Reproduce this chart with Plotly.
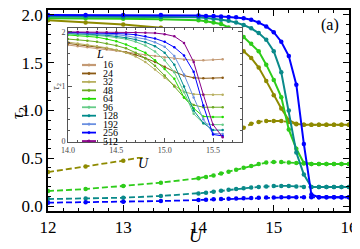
import plotly.graph_objects as go

# ---------------- data ----------------
U_MAIN = [12.0, 12.5, 13.0, 13.5, 14.0, 14.1, 14.2, 14.3, 14.4, 14.5, 14.6, 14.7, 14.8,
          14.9, 15.0, 15.1, 15.2, 15.3, 15.4, 15.5, 15.6, 15.7, 15.8, 15.9, 16.0]

SOLID_OLIVE = [1.945, 1.92, 1.90, 1.865, 1.815, 1.79, 1.765, 1.74, 1.71, 1.67, 1.62, 1.55, 1.45,
               1.31, 1.16, 1.02, 0.90, 0.86, 0.85, 0.85, 0.85, 0.85, 0.85, 0.85, 0.85]
SOLID_GREEN = [1.965, 1.965, 1.96, 1.955, 1.945, 1.935, 1.92, 1.905, 1.87, 1.83, 1.77, 1.70, 1.62,
               1.48, 1.32, 1.14, 0.80, 0.60, 0.45, 0.44, 0.44, 0.44, 0.44, 0.44, 0.44]
SOLID_TEAL = [1.985, 1.985, 1.98, 1.98, 1.975, 1.97, 1.96, 1.95, 1.94, 1.92, 1.895, 1.86, 1.81,
              1.74, 1.62, 1.40, 1.00, 0.56, 0.33, 0.20, 0.20, 0.20, 0.20, 0.20, 0.20]
SOLID_BLUE = [2.0, 2.0, 2.0, 2.0, 1.995, 1.99, 1.99, 1.985, 1.98, 1.975, 1.965, 1.95, 1.92,
              1.88, 1.82, 1.72, 1.57, 1.27, 0.65, 0.12, 0.093, 0.092, 0.092, 0.092, 0.092]

DASH_OLIVE = [0.355, 0.415, 0.475, 0.55, 0.62, 0.66, 0.70, 0.74, 0.78, 0.80, 0.82, 0.86, 0.88,
              0.89, 0.89, 0.89, 0.88, 0.855, 0.85, 0.85, 0.85, 0.85, 0.85, 0.85, 0.85]
DASH_GREEN = [0.157, 0.178, 0.21, 0.245, 0.29, 0.305, 0.32, 0.34, 0.36, 0.38, 0.40, 0.42, 0.44,
              0.455, 0.46, 0.46, 0.455, 0.45, 0.445, 0.44, 0.44, 0.44, 0.44, 0.44, 0.44]
DASH_TEAL = [0.073, 0.078, 0.087, 0.105, 0.13, 0.14, 0.15, 0.16, 0.17, 0.178, 0.186, 0.193, 0.20,
             0.205, 0.21, 0.21, 0.21, 0.205, 0.20, 0.20, 0.20, 0.20, 0.20, 0.20, 0.20]
DASH_BLUE = [0.035, 0.039, 0.044, 0.052, 0.063, 0.066, 0.07, 0.073, 0.076, 0.079, 0.082, 0.085, 0.087,
             0.089, 0.09, 0.091, 0.092, 0.092, 0.092, 0.092, 0.092, 0.092, 0.092, 0.092, 0.092]

U_INSET = [14.0, 14.1, 14.2, 14.3, 14.4, 14.5, 14.6, 14.7, 14.8, 14.9, 15.0, 15.1, 15.2,
           15.3, 15.4, 15.5, 15.6]
L_LABELS = ["16", "24", "32", "48", "64", "96", "128", "192", "256", "512"]
INSET_L16 = [1.76, 1.74, 1.72, 1.70, 1.68, 1.66, 1.63, 1.61, 1.58, 1.56, 1.53, 1.51, 1.49, 1.48, 1.48, 1.49, 1.50]
INSET_L24 = [1.79, 1.77, 1.75, 1.73, 1.70, 1.67, 1.63, 1.58, 1.52, 1.45, 1.36, 1.27, 1.20, 1.16, 1.15, 1.15, 1.16]
INSET_L32 = [1.815, 1.79, 1.765, 1.74, 1.71, 1.67, 1.62, 1.55, 1.45, 1.31, 1.16, 1.02, 0.90, 0.86, 0.85, 0.85, 0.85]
INSET_L48 = [1.87, 1.86, 1.84, 1.82, 1.79, 1.75, 1.70, 1.62, 1.52, 1.38, 1.20, 1.00, 0.80, 0.66, 0.62, 0.62, 0.62]
INSET_L64 = [1.945, 1.935, 1.92, 1.905, 1.87, 1.83, 1.77, 1.70, 1.62, 1.48, 1.32, 1.14, 0.80, 0.60, 0.45, 0.44, 0.44]
INSET_L96 = [1.96, 1.955, 1.945, 1.935, 1.92, 1.90, 1.87, 1.82, 1.75, 1.64, 1.48, 1.26, 0.90, 0.50, 0.32, 0.30, 0.30]
INSET_L128 = [1.975, 1.97, 1.96, 1.95, 1.94, 1.92, 1.895, 1.86, 1.81, 1.74, 1.62, 1.40, 1.00, 0.56, 0.33, 0.20, 0.20]
INSET_L192 = [1.985, 1.98, 1.975, 1.97, 1.96, 1.95, 1.93, 1.90, 1.87, 1.81, 1.73, 1.56, 1.22, 0.80, 0.40, 0.14, 0.13]
INSET_L256 = [1.995, 1.99, 1.99, 1.985, 1.98, 1.975, 1.965, 1.95, 1.92, 1.88, 1.82, 1.72, 1.57, 1.27, 0.65, 0.12, 0.093]
INSET_L512 = [2.0, 2.0, 2.0, 2.0, 1.995, 1.995, 1.99, 1.99, 1.985, 1.98, 1.96, 1.92, 1.80, 1.45, 0.85, 0.30, 0.07]

MAIN_TICKS_X = [12, 13, 14, 15, 16]
MAIN_TICKS_Y = [0.0, 0.5, 1.0, 1.5, 2.0]
INSET_TICKS_X = [14.0, 14.5, 15.0, 15.5]
INSET_TICKS_Y = [0, 1, 2]

# ---------------- styling ----------------
# The page body adds an 8px offset, so the figure is shifted back by 8px.
OFF = 8
W, H = 360, 249
PL, PT = 48, 10          # plot-area top-left in the final picture
PW, PH = 301, 201
ML, MT = PL - OFF, PT - OFF
MR, MB = W - ML - PW, H - MT - PH
FONT = "Liberation Serif"


def px(x):  # picture pixel -> paper x
    return (x - PL) / PW


def py(y):  # picture pixel -> paper y
    return (PT + PH - y) / PH


C_OLIVE, C_GREEN, C_TEAL, C_BLUE = "#8e8a00", "#2ecc1a", "#0a8a8a", "#0000ff"
INSET_COLORS = ["#c49a74", "#8b5a14", "#b8b060", "#6aaa20", "#22dd00",
                "#66cc88", "#008b8b", "#6a8fe0", "#0000ff", "#880088"]
INSET_SERIES = [INSET_L16, INSET_L24, INSET_L32, INSET_L48, INSET_L64,
                INSET_L96, INSET_L128, INSET_L192, INSET_L256, INSET_L512]

fig = go.Figure()

for ys, c in [(DASH_OLIVE, C_OLIVE), (DASH_GREEN, C_GREEN), (DASH_TEAL, C_TEAL), (DASH_BLUE, C_BLUE)]:
    fig.add_trace(go.Scatter(x=U_MAIN, y=ys, mode="lines+markers",
                             line=dict(color=c, width=1.8, dash="6px,3px"),
                             marker=dict(color=c, size=4.5), showlegend=False,
                             xaxis="x", yaxis="y"))
for ys, c in [(SOLID_OLIVE, C_OLIVE), (SOLID_GREEN, C_GREEN), (SOLID_TEAL, C_TEAL), (SOLID_BLUE, C_BLUE)]:
    fig.add_trace(go.Scatter(x=U_MAIN, y=ys, mode="lines+markers",
                             line=dict(color=c, width=2),
                             marker=dict(color=c, size=4.5), showlegend=False,
                             xaxis="x", yaxis="y"))

# background subplot for the inset (white box incl. tick-label strip)
fig.add_trace(go.Scatter(x=[None], y=[None], xaxis="x2", yaxis="y2",
                         showlegend=False, hoverinfo="skip"))

for ys, c in zip(INSET_SERIES, INSET_COLORS):
    fig.add_trace(go.Scatter(x=U_INSET, y=ys, mode="lines+markers",
                             line=dict(color=c, width=1),
                             marker=dict(color=c, size=2.5), showlegend=False,
                             xaxis="x3", yaxis="y3"))

main_axis = dict(showline=True, linecolor="black", linewidth=1.5, mirror="ticks",
                 ticks="inside", ticklen=6, tickwidth=1, tickcolor="black",
                 showgrid=False, zeroline=False, ticklabeloverflow="allow",
                 tickfont=dict(family=FONT, size=17, color="black"))
inset_axis = dict(showline=True, linecolor="#555", linewidth=1, mirror="ticks",
                  ticks="inside", ticklen=4, tickcolor="#555",
                  showgrid=False, zeroline=False, ticklabeloverflow="allow",
                  tickfont=dict(family=FONT, size=8, color="#444"))

fig.update_layout(
    width=W, height=H,
    margin=dict(l=ML, r=MR, t=MT, b=MB, autoexpand=False),
    paper_bgcolor="white", plot_bgcolor="white",
    xaxis=dict(main_axis, range=[12, 16], tickvals=MAIN_TICKS_X, domain=[0, 1],
               minor=dict(dtick=0.2, ticks="inside", ticklen=3, tickcolor="black")),
    yaxis=dict(main_axis, range=[-0.052, 2.052], tickvals=MAIN_TICKS_Y, tickformat=".1f",
               domain=[0, 1],
               minor=dict(dtick=0.1, ticks="inside", ticklen=3, tickcolor="black")),
    xaxis2=dict(visible=False, domain=[px(55), px(242)], range=[0, 1], anchor="y2"),
    yaxis2=dict(visible=False, domain=[py(157), py(28)], range=[0, 1], anchor="x2"),
    xaxis3=dict(inset_axis, domain=[px(68), px(242)], range=[14.0, 15.8], anchor="y3",
                tickvals=INSET_TICKS_X, tickformat=".1f",
                minor=dict(dtick=0.1, ticks="inside", ticklen=2, tickcolor="#555")),
    yaxis3=dict(inset_axis, domain=[py(142), py(28)], range=[-0.018, 2.073], anchor="x3",
                tickvals=INSET_TICKS_Y,
                minor=dict(dtick=0.2, ticks="inside", ticklen=2, tickcolor="#555")),
)


def note(text, x, y, size, color="black", angle=0, xanchor="center"):
    return dict(text=text, x=px(x), y=py(y), xref="paper", yref="paper",
                xanchor=xanchor, yanchor="middle", showarrow=False, textangle=angle,
                font=dict(family=FONT, size=size, color=color))


ann = [
    note("<i>U</i>", 196, 236, 18),
    note("<i>τ</i><sub>2</sub>", 19, 113, 17, angle=-90),
    note("(a)", 330, 25, 16),
    note("<i>U</i>", 143, 163, 14),
    note("<i>τ</i><sub>2</sub>", 56, 86, 10, color="#444", angle=-90),
    note("<i>L</i>", 100, 54, 12),
]

shapes = []
row0, step = 65.0, 8.45
for i, (lab, c) in enumerate(zip(L_LABELS, INSET_COLORS)):
    yy = row0 + i * step
    shapes.append(dict(type="line", xref="paper", yref="paper",
                       x0=px(82), x1=px(96), y0=py(yy), y1=py(yy),
                       line=dict(color=c, width=2.2 if i == 0 else 1.8)))
    shapes.append(dict(type="circle", xref="paper", yref="paper",
                       x0=px(87.8), x1=px(90.2), y0=py(yy + 1.2), y1=py(yy - 1.2),
                       fillcolor=c, line=dict(color=c, width=0.5)))
    ann.append(note(lab, 101, yy, 10, xanchor="left"))

fig.update_layout(annotations=ann, shapes=shapes)
fig.write_html("out.html")
